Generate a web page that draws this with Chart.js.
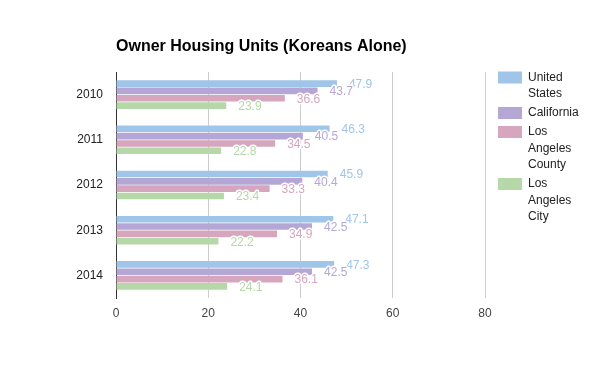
<!DOCTYPE html>
<html>
<head>
<meta charset="utf-8">
<script src="https://cdn.jsdelivr.net/npm/chart.js@4"></script>
<style>
  html, body { margin: 0; padding: 0; background: #fff; }
  #wrap { width: 600px; height: 371px; }
</style>
</head>
<body>
<div id="wrap"><canvas id="ownerChart" width="600" height="371"></canvas></div>
<script>
// data
const years = ['2010', '2011', '2012', '2013', '2014'];
const seriesNames = [['United', 'States'], ['California'], ['Los', 'Angeles', 'County'], ['Los', 'Angeles', 'City']];
const unitedStates = [47.9, 46.3, 45.9, 47.1, 47.3];
const california = [43.7, 40.5, 40.4, 42.5, 42.5];
const laCounty = [36.6, 34.5, 33.3, 34.9, 36.1];
const laCity = [23.9, 22.8, 23.4, 22.2, 24.1];
const xTicks = [0, 20, 40, 60, 80];

const colors = ['#9fc5e8', '#b4a7d6', '#d5a6bd', '#b6d7a8'];
const fontFamily = '"Liberation Sans", Arial, sans-serif';

// title, drawn left-aligned with the plot area
const titlePlugin = {
    id: 'titleLeft',
    afterDraw(chart) {
        const ctx = chart.ctx;
        ctx.save();
        ctx.font = 'bold 16px ' + fontFamily;
        ctx.fillStyle = '#000';
        ctx.textBaseline = 'alphabetic';
        ctx.fillText('Owner Housing Units (Koreans Alone)', chart.chartArea.left, 51);
        ctx.restore();
    }
};

// value labels at the end of each bar, with white halo
const valueLabels = {
    id: 'valueLabels',
    afterDatasetsDraw(chart) {
        const ctx = chart.ctx;
        ctx.save();
        ctx.font = '12px ' + fontFamily;
        ctx.textBaseline = 'middle';
        ctx.textAlign = 'left';
        ctx.lineJoin = 'round';
        chart.data.datasets.forEach((ds, i) => {
            const meta = chart.getDatasetMeta(i);
            meta.data.forEach((bar, j) => {
                const txt = ds.data[j].toFixed(1);
                const x = bar.x + 12;
                const y = bar.y + 1;
                ctx.strokeStyle = '#fff';
                ctx.lineWidth = 3;
                ctx.strokeText(txt, x, y);
                ctx.fillStyle = ds.backgroundColor;
                ctx.fillText(txt, x, y);
            });
        });
        ctx.restore();
    }
};

// legend on the right with wrapped names
const wrappedLegend = {
    id: 'wrappedLegend',
    afterDraw(chart) {
        const ctx = chart.ctx;
        const boxX = 498;
        const textX = 528;
        const lineH = 16.5;
        let y = 77.5;
        ctx.save();
        ctx.font = '12px ' + fontFamily;
        ctx.textBaseline = 'middle';
        chart.data.datasets.forEach((ds, i) => {
            const lines = seriesNames[i];
            ctx.fillStyle = ds.backgroundColor;
            ctx.fillRect(boxX, y - 6, 24, 12);
            ctx.fillStyle = '#222';
            lines.forEach((line, k) => {
                ctx.fillText(line, textX, y + k * lineH);
            });
            y += (lines.length - 1) * lineH + 19;
        });
        ctx.restore();
    }
};

const allSeries = [unitedStates, california, laCounty, laCity];

new Chart(document.getElementById('ownerChart').getContext('2d'), {
    type: 'bar',
    data: {
        labels: years,
        datasets: allSeries.map((values, i) => ({
            label: seriesNames[i].join(' '),
            data: values,
            backgroundColor: colors[i],
            borderWidth: 0,
            categoryPercentage: 0.65,
            barPercentage: 0.9
        }))
    },
    options: {
        indexAxis: 'y',
        responsive: false,
        animation: false,
        layout: {
            padding: { top: 72, right: 115, bottom: 43, left: 0 }
        },
        plugins: {
            legend: { display: false },
            title: { display: false },
            tooltip: { enabled: false }
        },
        scales: {
            x: {
                min: 0,
                max: 80,
                afterBuildTicks: (scale) => {
                    scale.ticks = xTicks.map(v => ({ value: v }));
                },
                afterFit: (scale) => { scale.height = 30; },
                grid: { color: '#cccccc', drawTicks: false },
                border: { display: false },
                ticks: {
                    padding: 8,
                    color: '#444',
                    font: { family: fontFamily, size: 12 }
                }
            },
            y: {
                afterFit: (scale) => { scale.width = 116; },
                grid: { display: false, drawTicks: false },
                border: { display: true, color: '#333', width: 1 },
                ticks: {
                    padding: 13,
                    color: '#222',
                    font: { family: fontFamily, size: 12 }
                }
            }
        }
    },
    plugins: [titlePlugin, valueLabels, wrappedLegend]
});
</script>
</body>
</html>
